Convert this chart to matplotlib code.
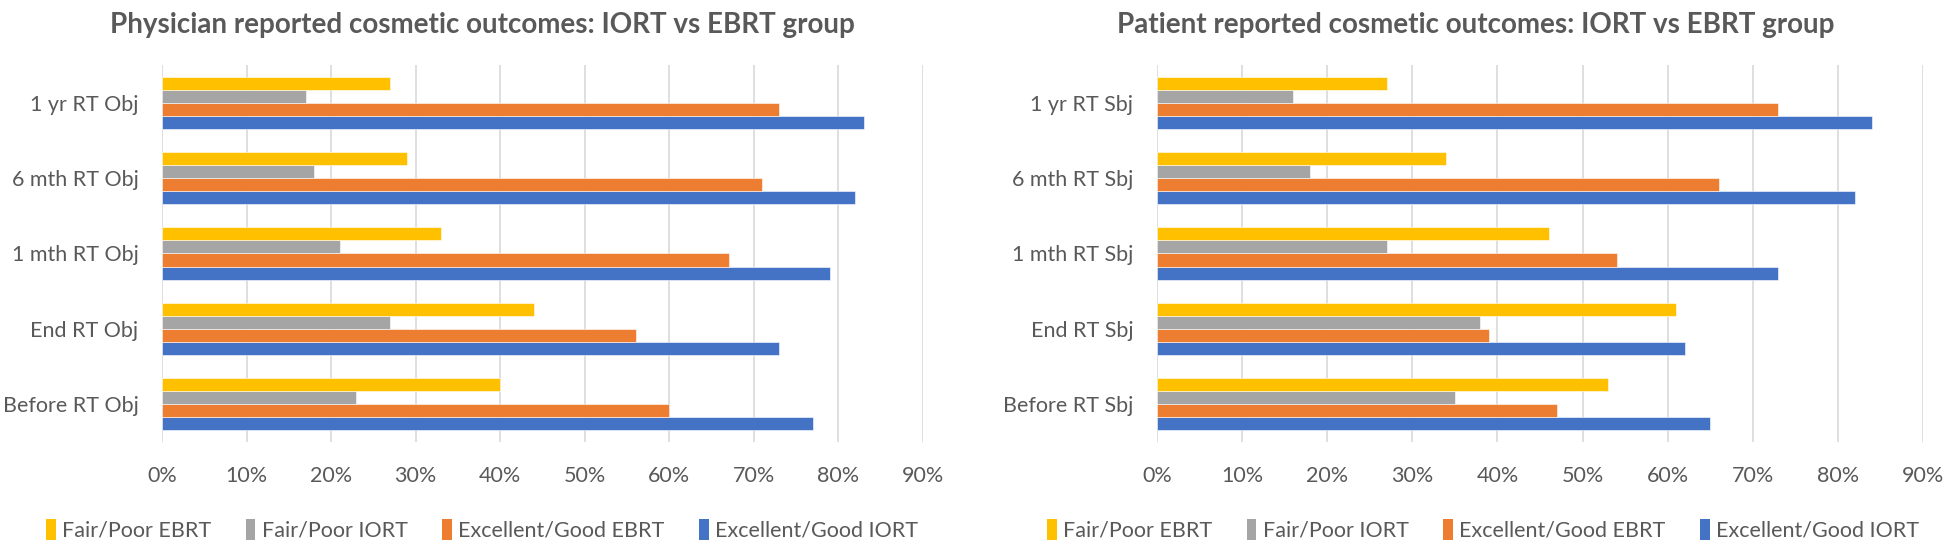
import matplotlib
matplotlib.use("Agg")
import matplotlib.pyplot as plt
import numpy as np
from matplotlib.patches import Patch
from matplotlib.ticker import PercentFormatter

categories_left = ["Before RT Obj", "End RT Obj", "1 mth RT Obj", "6 mth RT Obj", "1 yr RT Obj"]
categories_right = ["Before RT Sbj", "End RT Sbj", "1 mth RT Sbj", "6 mth RT Sbj", "1 yr RT Sbj"]

series_names = ["Excellent/Good IORT", "Excellent/Good EBRT", "Fair/Poor IORT", "Fair/Poor EBRT"]
colors = ["#4472C4", "#ED7D31", "#A5A5A5", "#FFC000"]

# Physician reported (values in %), bottom category first
phys_exc_iort = [77, 73, 79, 82, 83]
phys_exc_ebrt = [60, 56, 67, 71, 73]
phys_fair_iort = [23, 27, 21, 18, 17]
phys_fair_ebrt = [40, 44, 33, 29, 27]

# Patient reported
pat_exc_iort = [65, 62, 73, 82, 84]
pat_exc_ebrt = [47, 39, 54, 66, 73]
pat_fair_iort = [35, 38, 27, 18, 16]
pat_fair_ebrt = [53, 61, 46, 34, 27]

titles = ["Physician reported cosmetic outcomes: IORT vs EBRT group",
          "Patient reported cosmetic outcomes: IORT vs EBRT group"]

FONT = ["Lato", "DejaVu Sans"]
TXT = "#595959"
plt.rcParams["font.family"] = FONT

fig = plt.figure(figsize=(19.46, 5.42), dpi=100)

axes_rects = [[162/1946, 1-442/542, (923-162)/1946, (442-65)/542],
              [1157/1946, 1-442/542, (1923-1157)/1946, (442-65)/542]]
title_x = [482/1946, 1476/1946]
legend_x = [482/1946, 1483/1946]

datasets = [
    (categories_left, [phys_exc_iort, phys_exc_ebrt, phys_fair_iort, phys_fair_ebrt]),
    (categories_right, [pat_exc_iort, pat_exc_ebrt, pat_fair_iort, pat_fair_ebrt]),
]

bw = 0.1725
offsets = [-1.5*bw, -0.5*bw, 0.5*bw, 1.5*bw]

for k, (cats, series) in enumerate(datasets):
    ax = fig.add_axes(axes_rects[k])
    y = np.arange(len(cats))
    for s, vals in enumerate(series):
        ax.barh(y + offsets[s], vals, height=bw, color=colors[s],
                edgecolor="white", linewidth=0.4, zorder=3)
    ax.set_xlim(0, 90)
    ax.set_ylim(-0.5, len(cats) - 0.5)
    ax.set_xticks(np.arange(0, 91, 10))
    ax.xaxis.set_major_formatter(PercentFormatter(decimals=0))
    ax.set_yticks(y)
    ax.set_yticklabels(cats)
    ax.grid(axis="x", color="#D9D9D9", linewidth=1.2, zorder=0)
    for sp in ax.spines.values():
        sp.set_visible(False)
    ax.tick_params(axis="both", length=0, labelcolor=TXT, labelsize=15.5)
    ax.tick_params(axis="x", pad=17)
    ax.tick_params(axis="y", pad=17)

    fig.text(title_x[k], 1-25/542, titles[k], ha="center", va="center",
             fontsize=20, fontweight="bold", color=TXT)

    order = [3, 2, 1, 0]
    handles = [Patch(facecolor=colors[i], edgecolor="none") for i in order]
    labels = [series_names[i] for i in order]
    fig.legend(handles, labels, loc="center", bbox_to_anchor=(legend_x[k], 1-530/542),
               ncol=4, frameon=False, fontsize=15.5, labelcolor=TXT,
               handlelength=0.45, handleheight=1.1, handletextpad=0.3, columnspacing=1.6)

fig.savefig("out.png", dpi=100, facecolor="white")
